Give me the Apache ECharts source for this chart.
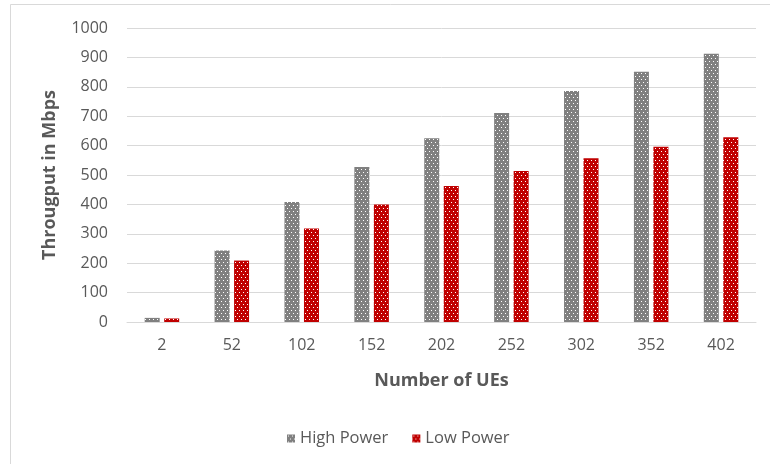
<!DOCTYPE html>
<html>
<head>
<meta charset="utf-8">
<script src="https://cdn.jsdelivr.net/npm/echarts@6/dist/echarts.min.js"></script>
<style>
  html, body { margin: 0; padding: 0; background: #ffffff; }
  #chart { width: 770px; height: 464px; }
</style>
</head>
<body>
<div id="chart"></div>
<script>
// Number of UEs on the x axis
const ueCounts = ['2', '52', '102', '152', '202', '252', '302', '352', '402'];
// Throughput (Mbps) per scenario
const highPower = [14, 243, 408, 527, 625, 711, 786, 851, 912];
const lowPower  = [12, 209, 318, 400, 463, 514, 557, 596, 628];
const seriesNames = ['High Power', 'Low Power'];
const yTicks = { min: 0, max: 1000, step: 100 };

// Dotted fill: base colour with small white dots in staggered rows
function dotPattern(base) {
  const c = document.createElement('canvas');
  c.width = 4; c.height = 6;
  const g = c.getContext('2d');
  g.fillStyle = base;
  g.fillRect(0, 0, 4, 6);
  g.fillStyle = '#ffffff';
  g.fillRect(1, 1, 1, 1);
  g.fillRect(3, 4, 1, 1);
  return { image: c, repeat: 'repeat' };
}

const textColor = '#595959';
const fontFam = '"Open Sans", sans-serif';
const chart = echarts.init(document.getElementById('chart'), null, { renderer: 'canvas' });

chart.setOption({
  animation: false,
  backgroundColor: '#ffffff',
  graphic: [{
    type: 'rect',
    shape: { x: 10.5, y: 4.5, width: 800, height: 500 },
    style: { fill: 'none', stroke: '#d9d9d9', lineWidth: 1 },
    silent: true, z: -1
  }],
  grid: { left: 127, right: 14, top: 28, bottom: 142, containLabel: false },
  legend: {
    data: seriesNames,
    left: 282, top: 425,
    itemWidth: 8, itemHeight: 8, itemGap: 24,
    icon: 'rect',
    textStyle: { color: textColor, fontSize: 16.5, fontFamily: fontFam }
  },
  xAxis: {
    type: 'category',
    data: ueCounts,
    name: 'Number of UEs',
    nameLocation: 'middle',
    nameGap: 50,
    nameTextStyle: { color: textColor, fontSize: 18, fontWeight: 'bold', fontFamily: fontFam },
    axisLine: { lineStyle: { color: '#d9d9d9' } },
    axisTick: { show: false },
    axisLabel: { color: textColor, fontSize: 16, margin: 15, fontFamily: fontFam }
  },
  yAxis: {
    type: 'value',
    min: yTicks.min, max: yTicks.max, interval: yTicks.step,
    name: 'Througput in Mbps',
    nameLocation: 'middle',
    nameGap: 68,
    nameRotate: 90,
    nameTextStyle: { color: textColor, fontSize: 18, fontWeight: 'bold', fontFamily: fontFam },
    axisLine: { show: false },
    axisTick: { show: false },
    splitLine: { lineStyle: { color: '#d9d9d9' } },
    axisLabel: { color: textColor, fontSize: 16, margin: 19, fontFamily: fontFam, formatter: v => String(v) }
  },
  series: [
    {
      name: seriesNames[0], type: 'bar', data: highPower,
      barWidth: 15, barGap: '30%',
      itemStyle: { color: dotPattern('#808080') }
    },
    {
      name: seriesNames[1], type: 'bar', data: lowPower,
      barWidth: 15, barGap: '30%',
      itemStyle: { color: dotPattern('#c00000') }
    }
  ]
});
</script>
</body>
</html>
